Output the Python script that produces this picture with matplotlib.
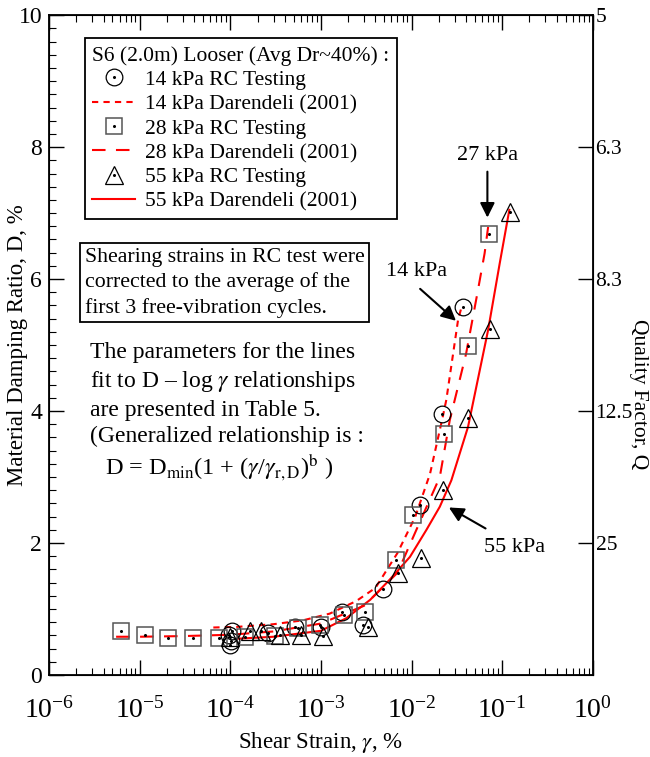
import numpy as np
import matplotlib
matplotlib.use('Agg')
import matplotlib.pyplot as plt
from matplotlib.lines import Line2D
from matplotlib.legend_handler import HandlerTuple

plt.rcParams['font.family'] = ['Liberation Serif', 'DejaVu Serif']
plt.rcParams['mathtext.fontset'] = 'stix'
plt.rcParams['font.size'] = 15.5

# RC test data (shear strain %, damping %)
c14_x = [1.0e-4, 1.02e-4, 0.98e-4, 1.05e-4, 2.6e-4, 5.2e-4, 1.0e-3, 1.7e-3, 2.9e-3, 4.85e-3, 1.23e-2, 2.17e-2, 3.7e-2]
c14_y = [0.46, 0.52, 0.60, 0.66, 0.63, 0.73, 0.73, 0.96, 0.76, 1.30, 2.58, 3.95, 5.58]
sq28_x = [6.3e-6, 1.15e-5, 2.07e-5, 3.9e-5, 7.6e-5, 1.45e-4, 3.1e-4, 5.6e-4, 9.8e-4, 1.8e-3, 3.1e-3,
          6.8e-3, 1.05e-2, 2.28e-2, 4.2e-2, 7.1e-2]
sq28_y = [0.67, 0.60, 0.56, 0.56, 0.56, 0.58, 0.59, 0.71, 0.76, 0.91, 0.96, 1.74, 2.42, 3.66, 4.99, 6.68]
tr55_x = [1.0e-4, 1.66e-4, 2.2e-4, 3.5e-4, 6.1e-4, 1.06e-3, 3.3e-3, 7.1e-3, 1.28e-2, 2.22e-2, 4.2e-2, 7.3e-2, 0.121]
tr55_y = [0.58, 0.67, 0.66, 0.61, 0.61, 0.59, 0.73, 1.54, 1.77, 2.80, 3.89, 5.24, 7.02]

# Darendeli (2001) curves
d14_x = [6.5e-5, 1.2e-4, 3e-4, 6.4e-4, 1.25e-3, 2.45e-3, 4e-3, 7e-3, 1.1e-2, 1.6e-2, 2.2e-2, 2.42e-2, 3.26e-2, 3.6e-2]
d14_y = [0.72, 0.73, 0.77, 0.83, 0.93, 1.12, 1.32, 1.85, 2.4, 3.05, 3.9, 4.17, 5.38, 5.6]
d28_x = [5.5e-6, 1e-5, 3e-5, 1e-4, 3e-4, 1e-3, 3e-3, 7e-3, 1.05e-2, 2.05e-2, 2.64e-2, 4.0e-2, 5.4e-2, 6.4e-2, 7.0e-2]
d28_y = [0.58, 0.58, 0.59, 0.61, 0.66, 0.78, 1.05, 1.55, 2.1, 3.0, 3.86, 4.87, 5.83, 6.39, 6.79]
d55_x = [1.2e-4, 3e-4, 1e-3, 1.9e-3, 3.5e-3, 5.7e-3, 9.6e-3, 1.46e-2, 2.05e-2, 2.75e-2, 4.2e-2, 7e-2, 9.4e-2, 0.12]
d55_y = [0.55, 0.58, 0.67, 0.86, 1.14, 1.44, 1.79, 2.2, 2.55, 2.95, 3.76, 5.23, 6.24, 7.05]

q_ticks = [10, 8, 6, 4, 2]
q_labels = ['5', '6.3', '8.3', '12.5', '25']

fig = plt.figure(figsize=(6.5, 7.57), dpi=100)
ax = fig.add_axes([0.0754, 0.1083, 0.8366, 0.8717])

red = '#ff0000'
l14, = ax.plot(d14_x, d14_y, color=red, lw=1.5, dashes=(3, 2.5))
l28, = ax.plot(d28_x, d28_y, color=red, lw=1.5, dashes=(6.5, 5))
l55, = ax.plot(d55_x, d55_y, color=red, lw=1.5)

ms = 12
m14, = ax.plot(c14_x, c14_y, 'o', ms=ms, mfc='none', mec='black', mew=0.9, ls='none')
m28, = ax.plot(sq28_x, sq28_y, 's', ms=ms, mfc='none', mec='#555555', mew=1.1, ls='none')
m55, = ax.plot(tr55_x, tr55_y, '^', ms=ms + 1, mfc='none', mec='black', mew=0.9, ls='none')
dot, = ax.plot(c14_x + sq28_x + tr55_x, c14_y + sq28_y + tr55_y, 'o', ms=1.2, color='black', ls='none')

ax.set_xscale('log')
ax.set_xlim(1e-6, 1)
ax.set_ylim(0, 10)
ax.set_xticks([1e-6, 1e-5, 1e-4, 1e-3, 1e-2, 1e-1, 1])
ax.set_xticklabels([r'$\mathregular{10^{%d}}$' % e for e in range(-6, 1)], fontsize=20)
ax.set_yticks(np.arange(0, 11, 2))
ax.set_yticks(np.arange(0, 10.01, 0.2), minor=True)
ax.tick_params(axis='both', which='major', direction='in', length=11, width=1, top=True, labelsize=17)
ax.tick_params(axis='both', which='minor', direction='in', length=5, width=0.8, top=True)
ax.tick_params(axis='x', which='major', labelsize=20, pad=16)
ax.tick_params(axis='y', pad=5)
for s in ax.spines.values():
    s.set_linewidth(1.3)
ax.set_xlabel(r'Shear Strain, $\gamma$, %', fontsize=16.5, va='center')
ax.xaxis.set_label_coords(0.5, -0.102)
ax.set_ylabel('Material Damping Ratio, D, %', fontsize=16.5, va='center')
ax.yaxis.set_label_coords(-0.058, 0.5)

ax2 = ax.twinx()
ax2.set_ylim(0, 10)
ax2.set_yticks(q_ticks)
ax2.set_yticklabels(q_labels, fontsize=15.5)
ax2.tick_params(axis='y', direction='in', length=11, width=1, pad=2)
ax2.yaxis.set_minor_locator(matplotlib.ticker.NullLocator())
fig.text(0.982, 0.48, 'Quality Factor, Q', rotation=-90, fontsize=15.5, ha='center', va='center')

dh = dict(marker='o', ms=1.2, color='black', ls='none')
handles = [(m14, Line2D([], [], **dh)), l14,
           (m28, Line2D([], [], **dh)), l28,
           (m55, Line2D([], [], **dh)), l55]
labels = ['14 kPa RC Testing', '14 kPa Darendeli (2001)', '28 kPa RC Testing',
          '28 kPa Darendeli (2001)', '55 kPa RC Testing', '55 kPa Darendeli (2001)']
leg = ax.legend(handles, labels, loc='upper left', bbox_to_anchor=(0.066, 0.965),
                title='S6 (2.0m) Looser (Avg Dr~40%) :', title_fontsize=15.5, fontsize=15.5,
                alignment='left', fancybox=False, edgecolor='black', framealpha=1,
                handlelength=2.0, handletextpad=0.45, borderpad=0.35, labelspacing=0.2,
                borderaxespad=0,
                handler_map={tuple: HandlerTuple(ndivide=1, pad=0)})
leg.get_frame().set_linewidth(1.3)

ax.text(0.066, 0.647, 'Shearing strains in RC test were\ncorrected to the average of the\nfirst 3 free-vibration cycles.',
        transform=ax.transAxes, fontsize=15.7, va='top', ha='left', linespacing=1.36,
        bbox=dict(boxstyle='square,pad=0.22', fc='white', ec='black', lw=1.3))
ax.text(0.075, 0.504, 'The parameters for the lines\nfit to D \u2013 log $\\gamma$ relationships\n'
        'are presented in Table 5.\n(Generalized relationship is :',
        transform=ax.transAxes, fontsize=17, va='top', ha='left', linespacing=1.33)
ax.text(0.103, 0.314, r'D = D$_{\rm min}$(1 + ($\gamma$/$\gamma_{\rm r,D}$)$^{\rm b}$ )',
        transform=ax.transAxes, fontsize=17.5, va='center', ha='left')

arr = dict(arrowstyle='-|>', color='black', lw=1.5, mutation_scale=22)
ax.annotate('', xy=(0.0687, 6.89), xytext=(0.0687, 7.67), arrowprops=arr)
ax.text(0.0687, 7.88, '27 kPa', fontsize=16, ha='center', va='center')
ax.annotate('', xy=(0.0326, 5.34), xytext=(0.0118, 5.88), arrowprops=arr)
ax.text(0.0113, 6.11, '14 kPa', fontsize=16, ha='center', va='center')
ax.annotate('', xy=(0.0243, 2.56), xytext=(0.0697, 2.2), arrowprops=arr)
ax.text(0.137, 1.94, '55 kPa', fontsize=16, ha='center', va='center')

fig.savefig('out.png', dpi=100)
